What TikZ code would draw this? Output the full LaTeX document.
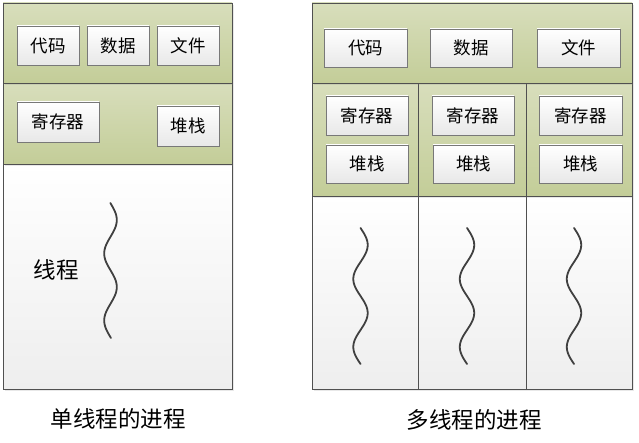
\documentclass[tikz,border=0pt]{standalone}
\usepackage{fontspec}
\setmainfont{Noto Sans CJK SC}
\usetikzlibrary{shadows}
\definecolor{gtop}{RGB}{216,222,188}
\definecolor{gbot}{RGB}{195,205,152}
\definecolor{edge}{RGB}{80,80,80}
\definecolor{boxedge}{RGB}{120,120,120}
\definecolor{wave}{RGB}{64,64,64}
\tikzset{
  band/.style={draw=edge, line width=0.9pt, top color=gtop, bottom color=gbot},
  area/.style={draw=edge, line width=0.9pt, top color=white, bottom color={rgb,255:red,238;green,238;blue,238}},
  bshadow/.style={drop shadow={opacity=0.18, shadow xshift=1.5pt, shadow yshift=-2pt}},
  itembox/.style={draw=boxedge, line width=0.8pt, top color=white, bottom color={rgb,255:red,232;green,232;blue,232},
    drop shadow={opacity=0.25, shadow xshift=1pt, shadow yshift=-1.2pt},
    font=\fontsize{17.5}{20}\selectfont, inner sep=0pt},
  wavy/.style={draw=wave, line width=1.8pt, line cap=round},
  caption/.style={font=\fontsize{22.5}{26}\selectfont, inner sep=0pt},
}
\begin{document}
\begin{tikzpicture}[x=1pt,y=-1pt]
\useasboundingbox (0,0) rectangle (639,443);
% ---------- single-threaded process ----------
\path[area, bshadow] (3,164) rectangle (232,389);
\path[band, bshadow] (3,83) rectangle (232,164);
\path[band, bshadow] (3,3) rectangle (232,83);
\node[itembox, minimum width=62pt, minimum height=39pt] (lcode) at (48,45.5) {代码};
\node[itembox, minimum width=62pt, minimum height=39pt] (ldata) at (118,45.5) {数据};
\node[itembox, minimum width=62pt, minimum height=39pt] (lfile) at (188,45.5) {文件};
\node[itembox, minimum width=82pt, minimum height=40pt] (lreg) at (58,122) {寄存器};
\node[itembox, minimum width=62pt, minimum height=40pt] (lstack) at (188,126) {堆栈};
\draw[wavy] plot[domain=203:338, samples=80, smooth] ({110.5+6.3*sin(90+(\x-220)/67*360)}, {\x});
\node[caption] (lthread) at (56,270) {线程};
\node[caption] (lcap) at (118,419) {单线程的进程};
% ---------- multi-threaded process ----------
\foreach \a/\b in {312/418, 418/526, 526/632}{
  \path[area, bshadow] (\a,196) rectangle (\b,389);
}
\foreach \a/\b in {312/418, 418/526, 526/632}{
  \path[band, bshadow] (\a,83) rectangle (\b,196);
}
\path[band, bshadow] (312,3) rectangle (632,83);
\node[itembox, minimum width=83pt, minimum height=38pt] (rcode) at (365.5,48) {代码};
\node[itembox, minimum width=82pt, minimum height=38pt] (rdata) at (471,48) {数据};
\node[itembox, minimum width=83pt, minimum height=38pt] (rfile) at (578.5,48) {文件};
\node[itembox, minimum width=82pt, minimum height=39pt] (rregA) at (367,115.5) {寄存器};
\node[itembox, minimum width=82pt, minimum height=38pt] (rstackA) at (367,164) {堆栈};
\node[itembox, minimum width=82pt, minimum height=39pt] (rregB) at (473,115.5) {寄存器};
\node[itembox, minimum width=81pt, minimum height=38pt] (rstackB) at (473.5,164) {堆栈};
\node[itembox, minimum width=83pt, minimum height=39pt] (rregC) at (580.5,115.5) {寄存器};
\node[itembox, minimum width=83pt, minimum height=38pt] (rstackC) at (580.5,164) {堆栈};
\foreach \c in {360.5, 467, 574}{
  \draw[wavy] plot[domain=228:364, samples=80, smooth] ({\c+7.2*sin(90+(\x-245)/68*360)}, {\x});
}
\node[caption] (rcap) at (474,420) {多线程的进程};
\end{tikzpicture}
\end{document}
